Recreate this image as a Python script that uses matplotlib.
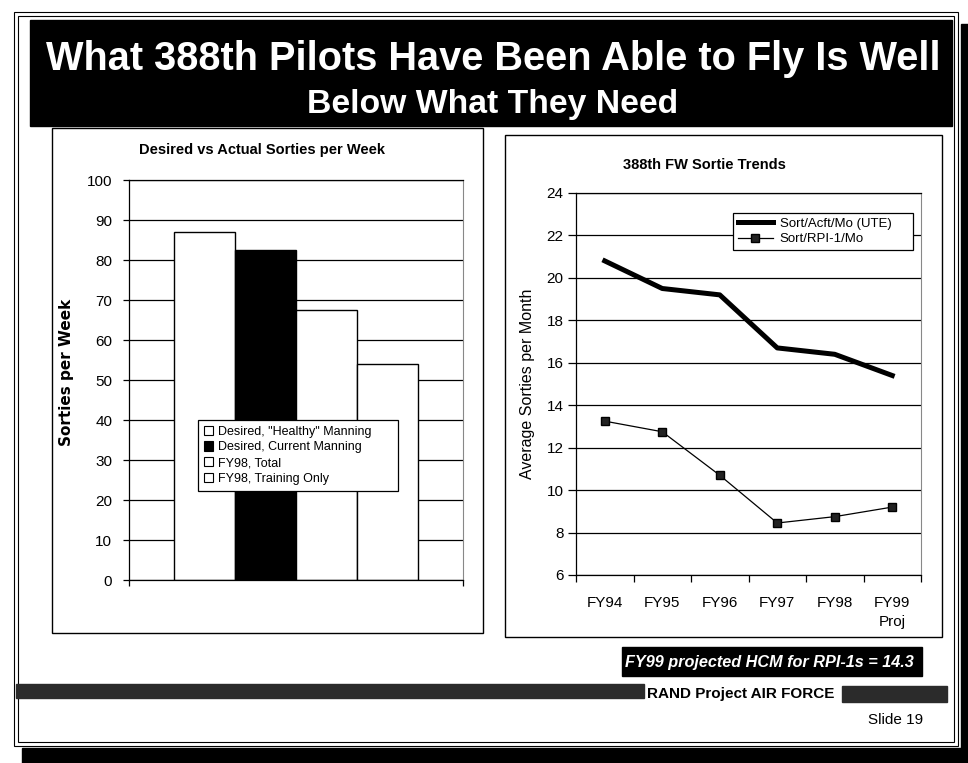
import numpy as np
import matplotlib
matplotlib.use('Agg')
import matplotlib.pyplot as plt
from matplotlib.patches import Rectangle, Patch
from matplotlib import font_manager

W, H = 968, 763

# left chart: desired vs actual sorties per week
bar_labels = ['Desired, "Healthy" Manning', 'Desired, Current Manning',
              'FY98, Total', 'FY98, Training Only']
bar_values = [87, 82.5, 67.5, 54]
bar_colors = ['white', 'black', 'white', 'white']

# right chart: 388th FW sortie trends
years = ['FY94', 'FY95', 'FY96', 'FY97', 'FY98', 'FY99\nProj']
ute = [20.8, 19.5, 19.2, 16.7, 16.4, 15.4]
rpi = [13.25, 12.75, 10.7, 8.45, 8.75, 9.2]

names = {f.name for f in font_manager.fontManager.ttflist}
SANS = 'Liberation Sans'
NARROW = 'Liberation Sans Narrow' if 'Liberation Sans Narrow' in names else SANS
plt.rcParams['font.family'] = [SANS, 'DejaVu Sans']


def px_box(x0, y0, x1, y1):
    return [x0 / W, 1 - y1 / H, (x1 - x0) / W, (y1 - y0) / H]


fig = plt.figure(figsize=(W / 100, H / 100), dpi=100)
bg = fig.add_axes([0, 0, 1, 1], zorder=0)
bg.set_xlim(0, W)
bg.set_ylim(H, 0)
bg.axis('off')


def rect(x0, y0, x1, y1, **kw):
    bg.add_patch(Rectangle((x0, y0), x1 - x0, y1 - y0, **kw))


# slide frame + drop shadow
rect(22, 748, 968, 763, color='black')
rect(961, 24, 968, 763, color='black')
rect(14, 12, 958, 746, fill=False, ec='black', lw=0.8)
rect(18, 16, 954, 742, fill=False, ec='black', lw=0.8)

# title band
rect(30, 20, 952, 126, color='black')
t1 = bg.text(493, 59, 'What 388th Pilots Have Been Able to Fly Is Well', color='white',
             fontsize=30, fontweight='bold', family=NARROW, ha='center', va='center')
t2 = bg.text(493, 104, 'Below What They Need', color='white',
             fontsize=30, fontweight='bold', family=NARROW, ha='center', va='center')

# panel boxes
rect(52, 128, 483, 633, fill=False, ec='black', lw=1)
rect(505, 135, 942, 637, fill=False, ec='black', lw=1)

# footer
rect(622, 647, 922, 676, color='black')
t3 = bg.text(914, 662, 'FY99 projected HCM for RPI-1s = 14.3', color='white', fontsize=13.5,
             fontweight='bold', style='italic', family=NARROW, ha='right', va='center')
rect(16, 684, 644, 698, color='#2b2b2b')
rect(842, 686, 947, 702, color='#2b2b2b')
bg.text(834, 694, 'RAND Project AIR FORCE', fontsize=11, fontweight='bold',
        family=NARROW, ha='right', va='center')
bg.text(896, 720, 'Slide 19', fontsize=11, ha='center', va='center')

# ---- left chart ----
ax1 = fig.add_axes(px_box(129, 180, 463, 580), zorder=1)
width = 0.73 / 4
xs = (np.arange(len(bar_values)) - 1.5) * width
for x, v, c, lab in zip(xs, bar_values, bar_colors, bar_labels):
    ax1.bar(x, v, width=width, color=c, edgecolor='black', linewidth=1, label=lab)
ax1.set_xlim(-0.5, 0.5)
ax1.set_ylim(0, 100)
ax1.set_yticks(range(0, 101, 10))
ax1.set_xticks([])
ax1.set_xticks([-0.5, 0.5], minor=True)
ax1.yaxis.grid(True, color='black', lw=0.9)
ax1.set_axisbelow(True)
ax1.tick_params(axis='y', direction='out', length=4, width=0.9, pad=8, labelsize=11)
ax1.tick_params(axis='x', which='minor', direction='out', length=4, width=0.9)
ax1.spines['top'].set_linewidth(0.9)
ax1.spines['left'].set_linewidth(0.9)
ax1.spines['bottom'].set_linewidth(0.9)
ax1.spines['right'].set(color='#888888', lw=0.8, linestyle=(0, (2, 1)))
bg.text(262, 150, 'Desired vs Actual Sorties per Week', fontsize=10.5,
        fontweight='bold', ha='center', va='center')
bg.text(67, 372, 'Sorties per Week', fontsize=11, fontweight='bold',
        family='DejaVu Sans', rotation=90, ha='center', va='center')
handles = [Patch(facecolor=c, edgecolor='black', linewidth=0.8) for c in bar_colors]
leg1 = ax1.legend(handles, bar_labels, loc='upper left', mode='expand',
                  bbox_to_anchor=(198 / W, 1 - 497 / H, 200 / W, 77 / H),
                  bbox_transform=fig.transFigure,
                  fontsize=9, frameon=True, fancybox=False, edgecolor='black',
                  framealpha=1, borderpad=0.45, handlelength=0.75, handleheight=0.75,
                  handletextpad=0.4, labelspacing=0.3, borderaxespad=0)
leg1.get_frame().set_linewidth(0.9)

# ---- right chart ----
ax2 = fig.add_axes(px_box(576, 193, 921, 575), zorder=1)
pos = np.arange(len(years))
ax2.plot(pos, ute, color='black', lw=3.6, solid_joinstyle='round',
         label='Sort/Acft/Mo (UTE)')
ax2.plot(pos, rpi, color='black', lw=0.9, marker='s', markersize=6,
         markerfacecolor='#222222', markeredgecolor='black', label='Sort/RPI-1/Mo')
ax2.set_xlim(-0.5, len(years) - 0.5)
ax2.set_ylim(6, 24)
ax2.set_yticks(range(6, 25, 2))
ax2.set_xticks(pos)
ax2.set_xticklabels(years, linespacing=1.5)
ax2.set_xticks(np.arange(-0.5, len(years)), minor=True)
ax2.yaxis.grid(True, color='black', lw=0.9)
ax2.set_axisbelow(True)
ax2.tick_params(axis='y', direction='out', length=6, width=0.9, pad=3, labelsize=11)
ax2.tick_params(axis='x', which='major', length=0, pad=15, labelsize=11)
ax2.tick_params(axis='x', which='minor', direction='out', length=5, width=0.9)
ax2.spines['top'].set_linewidth(0.9)
ax2.spines['left'].set_linewidth(0.9)
ax2.spines['bottom'].set_linewidth(0.9)
ax2.spines['right'].set(color='#888888', lw=0.8, linestyle=(0, (2, 1)))
ax2.set_ylabel('Average Sorties per Month', fontsize=11.5, labelpad=8)
bg.text(704, 165, '388th FW Sortie Trends', fontsize=10.5, fontweight='bold',
        ha='center', va='center')
leg2 = ax2.legend(loc='upper left', mode='expand',
                  bbox_to_anchor=(733 / W, 1 - 257 / H, 180 / W, 44 / H),
                  bbox_transform=fig.transFigure, fontsize=9.5, frameon=True,
                  fancybox=False, edgecolor='black', framealpha=1, borderpad=0.35,
                  handlelength=2.7, handletextpad=0.5, labelspacing=0.25, borderaxespad=0)
leg2.get_frame().set_linewidth(0.9)

# squeeze the wide texts to the width they take in the slide
renderer = fig.canvas.get_renderer()
for t, target in [(t1, 895), (t2, 372), (t3, 290)]:
    w = t.get_window_extent(renderer).width
    if w > target:
        t.set_fontsize(t.get_fontsize() * target / w)

fig.savefig('out.png', dpi=100)
